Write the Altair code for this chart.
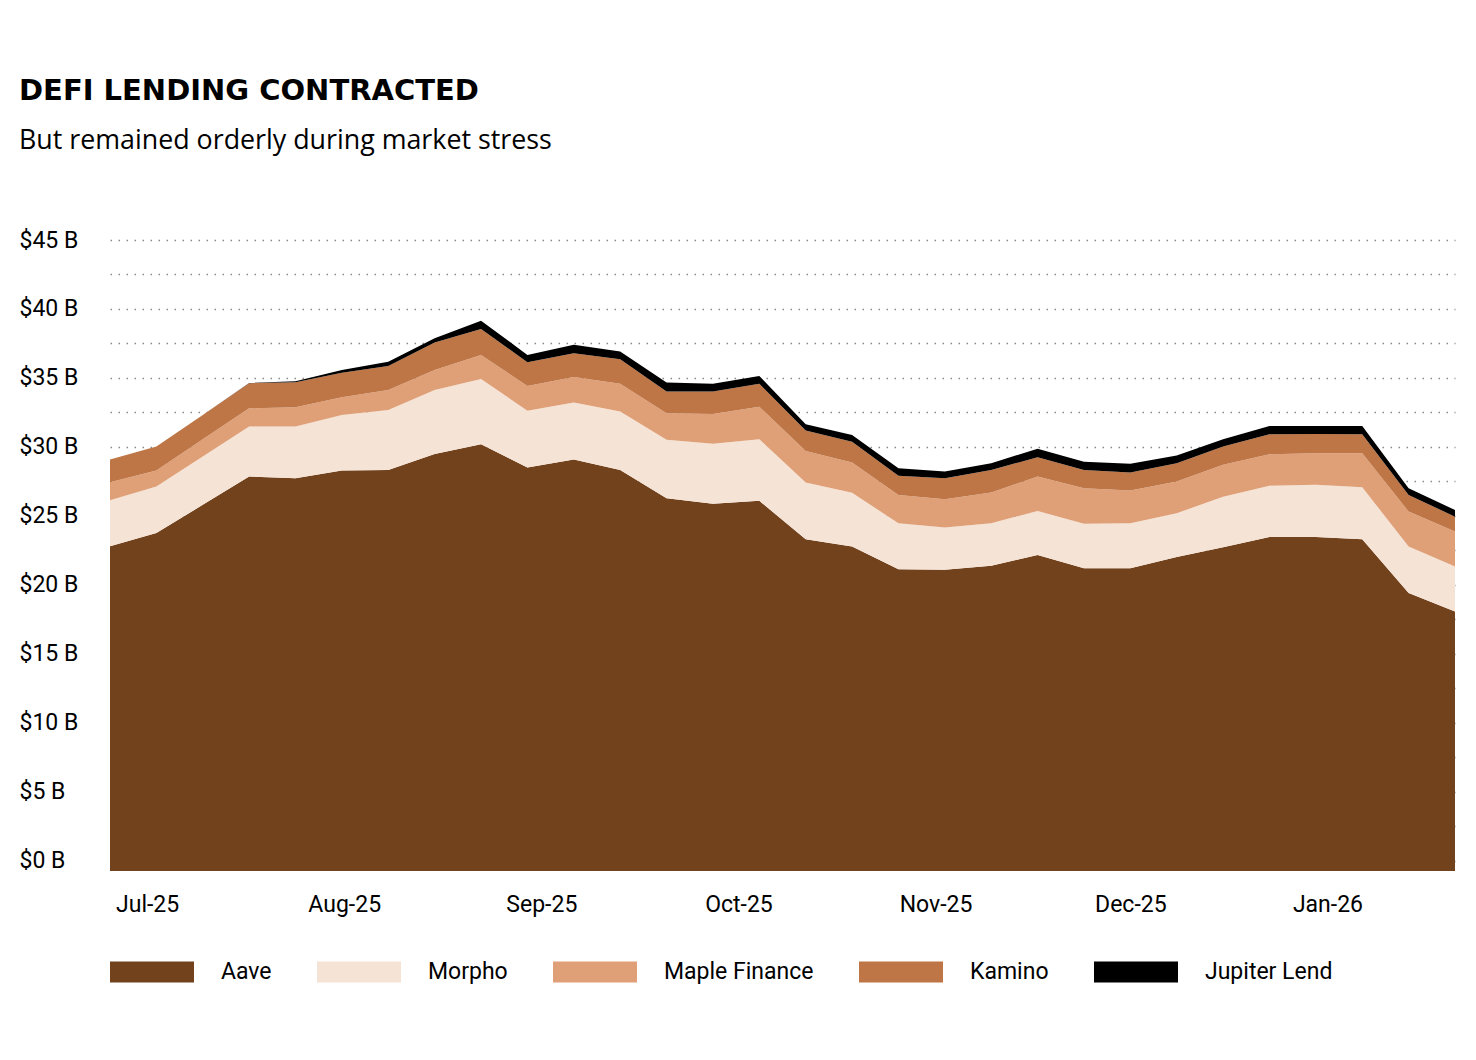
import json
import altair as alt
import pandas as pd

# ---- data ($ billions) ----
weeks = list(range(30))
aave = [22.8, 23.75, 25.8, 27.85, 27.73, 28.28, 28.33, 29.49, 30.2, 28.5,
        29.09, 28.33, 26.28, 25.87, 26.09, 23.31, 22.78, 21.13, 21.09, 21.39,
        22.17, 21.2, 21.2, 22.01, 22.72, 23.46, 23.46, 23.3, 19.4, 18.07]
morpho = [3.33, 3.37, 3.5, 3.62, 3.74, 4.04, 4.35, 4.64, 4.73, 4.12,
          4.13, 4.23, 4.23, 4.35, 4.47, 4.11, 3.89, 3.33, 3.06, 3.07,
          3.19, 3.22, 3.26, 3.18, 3.66, 3.73, 3.79, 3.77, 3.38, 3.26]
maple = [1.3, 1.16, 1.25, 1.33, 1.41, 1.28, 1.45, 1.45, 1.74, 1.8,
         1.85, 2.01, 1.93, 2.17, 2.35, 2.29, 2.19, 2.06, 2.06, 2.23,
         2.49, 2.58, 2.37, 2.3, 2.32, 2.28, 2.29, 2.47, 2.53, 2.53]
kamino = [1.65, 1.74, 1.77, 1.82, 1.81, 1.78, 1.74, 1.98, 1.88, 1.72,
          1.72, 1.79, 1.57, 1.62, 1.66, 1.47, 1.52, 1.38, 1.52, 1.64,
          1.4, 1.33, 1.31, 1.33, 1.32, 1.45, 1.4, 1.38, 1.21, 1.08]
jupiter = [0.0, 0.0, 0.0, 0.02, 0.07, 0.2, 0.31, 0.32, 0.6, 0.53,
           0.62, 0.55, 0.65, 0.56, 0.57, 0.46, 0.49, 0.56, 0.48, 0.49,
           0.61, 0.6, 0.63, 0.55, 0.54, 0.6, 0.58, 0.6, 0.48, 0.49]

protocols = ["Aave", "Morpho", "Maple Finance", "Kamino", "Jupiter Lend"]
colors = ["#72421c", "#f5e3d6", "#dfa077", "#be7647", "#000000"]
series = [aave, morpho, maple, kamino, jupiter]

month_labels = ["Jul-25", "Aug-25", "Sep-25", "Oct-25", "Nov-25", "Dec-25", "Jan-26"]
month_ticks = [0.8, 5.05, 9.3, 13.55, 17.8, 22.0, 26.25]
y_ticks = [i * 2.5 for i in range(19)]
Y_FLOOR = -0.75

rows = []
for order, (name, vals) in enumerate(zip(protocols, series)):
    for w, v in zip(weeks, vals):
        rows.append({"week": w, "protocol": name, "value": v, "order": order})
df = pd.DataFrame(rows)

x_label_expr = (
    f"{json.dumps(month_labels)}[indexof({json.dumps(month_ticks)}, datum.value)]"
)
y_label_expr = "datum.value % 5 === 0 ? '$' + datum.value + ' B' : ''"

chart = (
    alt.Chart(df)
    .transform_stack(
        stack="value",
        groupby=["week"],
        as_=["lo", "hi"],
        sort=[alt.SortField("order", order="ascending")],
    )
    .transform_calculate(lo=f"datum.protocol === 'Aave' ? {Y_FLOOR} : datum.lo")
    .mark_area(opacity=1, strokeWidth=0)
    .encode(
        x=alt.X(
            "week:Q",
            scale=alt.Scale(domain=[0, 29], nice=False, zero=False),
            axis=alt.Axis(
                values=month_ticks,
                labelExpr=x_label_expr,
                title=None,
                grid=False,
                domain=False,
                ticks=False,
                labelPadding=22,
                labelFont="Roboto",
                labelFontSize=23,
                labelColor="#000000",
            ),
        ),
        y=alt.Y(
            "hi:Q",
            stack=None,
            scale=alt.Scale(domain=[Y_FLOOR, 45], nice=False, zero=False),
            axis=alt.Axis(
                values=y_ticks,
                labelExpr=y_label_expr,
                title=None,
                domain=False,
                ticks=False,
                grid=True,
                gridColor="#8a8a8a",
                gridWidth=1.5,
                gridDash=[1.5, 6.5],
                labelAlign="left",
                labelBaseline="middle",
                labelPadding=91,
                labelFont="Roboto",
                labelFontSize=23,
                labelColor="#000000",
            ),
        ),
        y2="lo:Q",
        color=alt.Color(
            "protocol:N",
            scale=alt.Scale(domain=protocols, range=colors),
            sort=protocols,
            legend=alt.Legend(
                title=None,
                orient="none",
                legendX=0,
                legendY=690,
                direction="horizontal",
                symbolType="M-1,-0.25L1,-0.25L1,0.25L-1,0.25Z",
                symbolSize=7056,
                symbolStrokeWidth=0,
                symbolOpacity=1,
                labelOffset=27,
                columnPadding=45,
                labelFont="Roboto",
                labelFontSize=23,
                labelColor="#000000",
                labelLimit=400,
            ),
        ),
        order=alt.Order("order:Q"),
    )
    .properties(
        width=1345,
        height=631,
        padding={"left": 11, "top": 69, "right": 10, "bottom": 20},
        title=alt.TitleParams(
            text="DEFI LENDING CONTRACTED",
            subtitle="But remained orderly during market stress",
            anchor="start",
            frame="bounds",
            font="DejaVu Sans",
            fontSize=29,
            fontWeight="bold",
            color="#000000",
            subtitleFont="Open Sans",
            subtitleFontSize=26.8,
            subtitleColor="#000000",
            subtitlePadding=22,
            offset=74,
        ),
    )
    .configure(background="#ffffff")
    .configure_view(stroke=None, strokeWidth=0)
)

chart.save("out.html", embed_options={"renderer": "svg", "actions": False})
